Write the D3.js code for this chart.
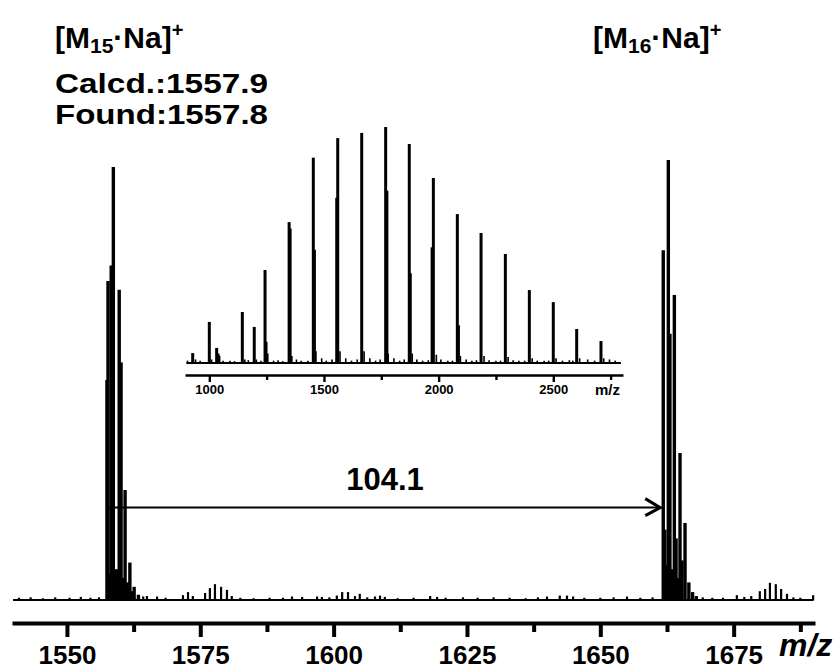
<!DOCTYPE html>
<html>
<head>
<meta charset="utf-8">
<script src="https://cdn.jsdelivr.net/npm/d3@7"></script>
<style>
    body { margin: 0; background: #fff; }
    svg { display: block; font-family: "Liberation Sans", Arial, sans-serif; font-weight: bold; }
</style>
</head>
<body>
<svg id="drawing_region"></svg>
<script>
// ---- main spectrum (m/z, relative intensity %) ----
const mainPeakMz  = [1557.5, 1557.7, 1558.05, 1558.3, 1558.7, 1559.25, 1559.8, 1560.15, 1560.5, 1560.9, 1561.35, 1561.8, 1562.2, 1562.6, 1563.4,
                     1661.8, 1662.1, 1662.4, 1662.75, 1663.05, 1663.5, 1663.88, 1664.2, 1664.6, 1664.94, 1665.3, 1665.88, 1666.6, 1667.3, 1668.0];
const mainPeakInt = [50, 72.5, 6, 76, 98.4, 7, 70.5, 54, 5, 25, 4, 8.5, 2, 3, 1.2,
                     79.5, 16, 8, 100, 60.5, 7, 69.3, 14, 5, 33.4, 9, 17.5, 4, 1.8, 0.9];

const mainNoiseMz  = [1541.0, 1543.2, 1545.5, 1547.8, 1550.5, 1552.6, 1554.4, 1556.0, 1564.3, 1565.0, 1566.9, 1568.5,
                      1571.75, 1572.7, 1573.6, 1575.9, 1576.8, 1577.75, 1578.9, 1580.0, 1580.9, 1582.5, 1585, 1588, 1590.5,
                      1592.2, 1594.1, 1596.9, 1597.8, 1599.2, 1600.6, 1601.6, 1602.7, 1604.0, 1604.9, 1606.3, 1607.75, 1608.7,
                      1609.6, 1612, 1615, 1618.1, 1619.4, 1621, 1624.25, 1627, 1630, 1633, 1636, 1638.3, 1640, 1642.4, 1643.75,
                      1644.9, 1647, 1650, 1652.5, 1655, 1657.5, 1659.8, 1669.2, 1671, 1673, 1675.6, 1677, 1678.3, 1679.9,
                      1680.9, 1681.8, 1682.9, 1683.9, 1685.0, 1686.2, 1687.5, 1689.9];
const mainNoiseInt = [0.5, 0.6, 0.4, 0.6, 0.5, 0.7, 0.5, 0.6, 0.8, 0.9, 0.8, 0.5,
                      1.1, 1.8, 0.9, 1.6, 2.7, 3.6, 3.0, 2.3, 0.9, 0.5, 0.4, 0.5, 0.5,
                      0.8, 0.7, 0.8, 0.7, 0.6, 1.0, 1.8, 1.8, 0.9, 1.4, 0.6, 0.8, 1.0,
                      0.7, 0.4, 0.5, 0.9, 0.7, 0.5, 0.6, 0.5, 0.6, 0.5, 0.4, 0.6, 0.8, 1.0, 1.0,
                      0.8, 0.5, 0.5, 0.6, 0.8, 0.5, 0.6, 0.6, 0.5, 0.5, 1.1, 0.7, 0.9, 2.0,
                      2.5, 3.9, 3.6, 2.5, 1.4, 0.6, 0.5, 1.1];

const mainMajorTicks = [1550, 1575, 1600, 1625, 1650, 1675];
const mainMinorTicks = [1562.5, 1587.5, 1612.5, 1637.5, 1662.5, 1687.5];

// ---- inset: full range spectrum ----
const insetPeakMz  = [927.6, 1000, 1032, 1038, 1144, 1196, 1243, 1348, 1453.5, 1560, 1664.6, 1769, 1872, 1977, 2081.6, 2185, 2291, 2395.6, 2500, 2602, 2708];
const insetPeakInt = [4.2, 17.4, 6.4, 4, 21.6, 15.3, 39.4, 59.7, 87, 95.3, 97.5, 100, 92.8, 78.4, 63.1, 55.1, 46.2, 30.9, 25.8, 14.4, 9.3];

const insetShoulderMz  = [1250, 1355, 1461, 1553, 1777, 1879, 1969, 2089];
const insetShoulderInt = [9, 57, 48, 70, 73, 38, 49, 16];

const insetNoiseMz  = [905, 940, 960, 1010, 1045, 1060, 1090, 1110, 1155, 1170, 1205, 1225, 1255, 1280, 1300, 1320, 1360, 1380, 1400, 1430,
                       1465, 1490, 1510, 1535, 1570, 1595, 1620, 1645, 1675, 1700, 1725, 1745, 1780, 1805, 1830, 1850, 1885, 1905, 1930, 1955,
                       1990, 2010, 2040, 2060, 2095, 2120, 2145, 2165, 2198, 2220, 2250, 2270, 2303, 2325, 2350, 2375, 2408, 2430, 2460, 2480,
                       2512, 2540, 2570, 2585, 2615, 2650, 2680, 2720, 2745, 2770];
const insetNoiseInt = [1, 1.5, 1, 1.5, 3, 1, 1, 0.8, 1.5, 1.2, 1.5, 1, 4, 1, 1.2, 0.8, 3, 1.5, 1, 1,
                       5, 2, 1, 1.5, 5, 2, 1, 1.5, 5, 2, 1, 1.5, 4, 2, 1, 1.5, 4, 1.5, 1, 1.2,
                       3.5, 1.5, 1, 1, 3, 1.5, 1, 1.2, 3, 1.2, 1, 1, 2.5, 1.2, 1, 1, 2, 1, 1, 1,
                       2, 1, 1.2, 1, 2, 1.5, 1, 2, 1.5, 1];

const insetMajorTicks = [1000, 1500, 2000, 2500];
const insetMinorTicks = [1250, 1750, 2250, 2750];

// arrow between the two clusters
const arrowFrom = 1557.7, arrowTo = 1661.8, arrowLevel = 21;

class Spectrum {

    constructor( config, data ) {
        this.config = config;
        this.data = data;
        this.init();
    }

    init() {
        let self = this;
        let c = self.config;
        self.g = c.parent.append('g');

        self.xscale = d3.scaleLinear()
            .domain(c.xdomain)
            .range(c.xrange);

        self.yscale = d3.scaleLinear()
            .domain([0, 100])
            .range([c.ybase, c.ytop]);

        self.xaxis = d3.axisBottom( self.xscale )
            .tickValues(self.data.major)
            .tickSize(c.majorSize)
            .tickSizeOuter(0)
            .tickPadding(c.tickPadding)
            .tickFormat(d3.format('d'));

        self.minoraxis = d3.axisBottom( self.xscale )
            .tickValues(self.data.minor)
            .tickSize(c.minorSize)
            .tickSizeOuter(0)
            .tickFormat('');
    }

    sticks(mz, val, width) {
        let self = this;
        self.g.append('g')
            .selectAll('line').data(mz.map((m, i) => ({m: m, v: val[i]})))
            .join('line')
            .attr('x1', d => self.xscale(d.m))
            .attr('x2', d => self.xscale(d.m))
            .attr('y1', self.yscale(0) + 0.5)
            .attr('y2', d => self.yscale(d.v))
            .attr('stroke', '#000')
            .attr('stroke-width', width);
    }

    render() {
        let self = this;
        let c = self.config;

        // baseline of the trace
        self.g.append('line')
            .attr('x1', self.xscale(c.traceFrom))
            .attr('x2', self.xscale(c.traceTo))
            .attr('y1', self.yscale(0))
            .attr('y2', self.yscale(0))
            .attr('stroke', '#000')
            .attr('stroke-width', c.baseWidth);

        self.sticks(self.data.noiseMz, self.data.noiseInt, c.noiseWidth);
        if (self.data.shoulderMz) self.sticks(self.data.shoulderMz, self.data.shoulderInt, c.shoulderWidth);
        self.sticks(self.data.peakMz, self.data.peakInt, c.peakWidth);

        // axes
        let ax = self.g.append('g')
            .attr('transform', `translate(0, ${c.axisY})`)
            .call( self.xaxis );
        ax.select('.domain').attr('stroke-width', c.axisWidth);
        ax.selectAll('.tick line').attr('stroke-width', c.tickWidth);
        ax.selectAll('.tick text')
            .attr('fill', '#000')
            .style('font-size', c.fontSize + 'px')
            .style('font-weight', 'bold')
            .style('font-family', '"Liberation Sans", Arial, sans-serif');

        let mx = self.g.append('g')
            .attr('transform', `translate(0, ${c.axisY})`)
            .call( self.minoraxis );
        mx.select('.domain').remove();
        mx.selectAll('.tick line').attr('stroke-width', c.tickWidth);
    }
}

const svg = d3.select('#drawing_region')
    .attr('width', 840)
    .attr('height', 670);

const main = new Spectrum({
    parent: svg, xdomain: [1539.7, 1690.25], xrange: [12, 815],
    ybase: 600, ytop: 160, axisY: 623,
    traceFrom: 1539.9, traceTo: 1689.9,
    majorSize: 14, minorSize: 9, tickPadding: 9, fontSize: 26,
    axisWidth: 4, tickWidth: 4, baseWidth: 2,
    peakWidth: 3.4, shoulderWidth: 2.4, noiseWidth: 2.2
}, {
    peakMz: mainPeakMz, peakInt: mainPeakInt,
    noiseMz: mainNoiseMz, noiseInt: mainNoiseInt,
    major: mainMajorTicks, minor: mainMinorTicks
});
main.render();

const inset = new Spectrum({
    parent: svg, xdomain: [894, 2804], xrange: [185, 623],
    ybase: 363, ytop: 127, axisY: 375,
    traceFrom: 900, traceTo: 2795,
    majorSize: 7, minorSize: 5, tickPadding: 3, fontSize: 13,
    axisWidth: 2.6, tickWidth: 2.4, baseWidth: 1.8,
    peakWidth: 3, shoulderWidth: 1.8, noiseWidth: 1.6
}, {
    peakMz: insetPeakMz, peakInt: insetPeakInt,
    shoulderMz: insetShoulderMz, shoulderInt: insetShoulderInt,
    noiseMz: insetNoiseMz, noiseInt: insetNoiseInt,
    major: insetMajorTicks, minor: insetMinorTicks
});
inset.render();

// axis titles
svg.append('text')
    .attr('x', 779).attr('y', 656)
    .style('font-size', '32px').style('font-style', 'italic')
    .text('m/z');
svg.append('text')
    .attr('x', 595).attr('y', 395)
    .style('font-size', '15px')
    .text('m/z');

// arrow + label
const ay = main.yscale(arrowLevel);
const ax1 = main.xscale(arrowFrom), ax2 = main.xscale(arrowTo) - 3;
svg.append('line')
    .attr('x1', ax1).attr('x2', ax2).attr('y1', ay).attr('y2', ay)
    .attr('stroke', '#000').attr('stroke-width', 2);
svg.append('path')
    .attr('d', `M${ax2 - 15},${ay - 9}L${ax2},${ay}L${ax2 - 15},${ay + 8}`)
    .attr('fill', 'none').attr('stroke', '#000').attr('stroke-width', 3);
svg.append('text')
    .attr('x', 385).attr('y', 490)
    .attr('text-anchor', 'middle')
    .style('font-size', '31px')
    .text('104.1');

// ion labels
function ionLabel(x, y, n) {
    let t = svg.append('text').attr('x', x).attr('y', y).style('font-size', '30px');
    t.append('tspan').text('[M');
    t.append('tspan').attr('dy', 5).style('font-size', '21px').text(n);
    t.append('tspan').attr('dy', -5).text('·Na]');
    t.append('tspan').attr('dy', -11).style('font-size', '20px').text('+');
}
ionLabel(55, 48, '15');
ionLabel(593, 48, '16');

svg.append('text').attr('x', 55).attr('y', 93).style('font-size', '27px')
    .attr('textLength', 213).attr('lengthAdjust', 'spacingAndGlyphs')
    .text('Calcd.:1557.9');
svg.append('text').attr('x', 55).attr('y', 124).style('font-size', '27px')
    .attr('textLength', 213).attr('lengthAdjust', 'spacingAndGlyphs')
    .text('Found:1557.8');
</script>
</body>
</html>
